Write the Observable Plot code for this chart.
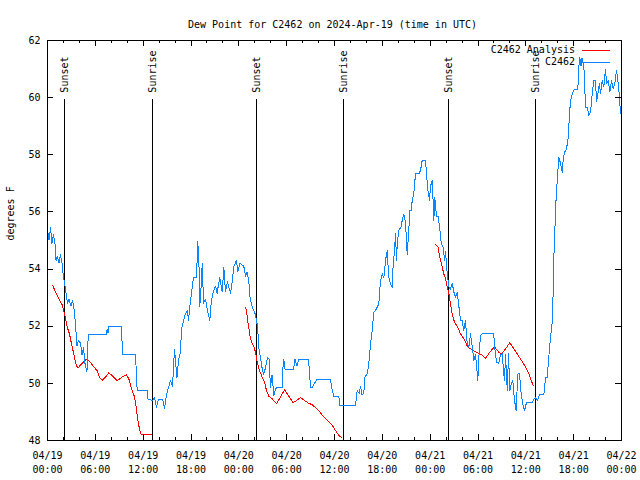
<!DOCTYPE html>
<html><head><meta charset="utf-8">
<script src="https://cdn.jsdelivr.net/npm/d3@7"></script>
<script src="https://cdn.jsdelivr.net/npm/@observablehq/plot@0.6"></script>
<style>body{margin:0;background:#fff}#chart svg{display:block}</style>
</head><body><div id="chart"></div>
<script>
const titleText = "Dew Point for C2462 on 2024-Apr-19 (time in UTC)";
const yLabel = "degrees F";
const seriesNames = ["C2462 Analysis", "C2462"];
const yTicks = [48, 50, 52, 54, 56, 58, 60, 62];
const startTime = "2024-04-19T00:00:00Z";
const endTime = "2024-04-22T00:00:00Z";
const sunLabels = ["Sunset", "Sunrise", "Sunset", "Sunrise", "Sunset", "Sunrise"];
const sunTimes = ["2024-04-19T02:10:00Z", "2024-04-19T13:13:00Z", "2024-04-20T02:16:00Z", "2024-04-20T13:11:00Z", "2024-04-21T02:20:00Z", "2024-04-21T13:14:00Z"];

// [hours since 04/19 00:00 UTC, dew point °F]
const observed = [[0,55.4],[0.19,55.0],[0.38,55.45],[0.56,54.9],[0.75,55.2],[0.94,54.9],[1.07,54.3],[1.25,54.45],[1.44,54.2],[1.63,54.5],[1.82,54.2],[2.01,53.7],[2.26,53.3],[2.51,52.8],[2.70,52.95],[2.95,52.7],[3.14,52.9],[3.32,52.6],[3.51,52.1],[3.70,51.3],[3.89,51.5],[4.14,51.4],[4.33,51.0],[4.52,51.25],[4.70,50.7],[4.95,50.4],[5.11,51.7],[7.40,51.7],[7.49,51.9],[7.59,51.75],[7.71,52.0],[9.28,52.0],[9.41,51.0],[11.04,51.0],[11.25,49.75],[12.51,49.75],[12.61,49.45],[13.17,49.4],[13.42,49.5],[13.67,49.17],[13.92,49.45],[14.43,49.45],[14.68,49.13],[14.93,49.6],[15.12,49.8],[15.43,50.1],[15.68,49.9],[15.93,51.2],[16.24,50.2],[16.43,50.8],[16.68,51.1],[16.81,51.9],[17.02,52.15],[17.25,52.4],[17.56,52.55],[17.69,52.2],[17.88,52.75],[18.13,53.3],[18.31,53.7],[18.69,53.7],[18.85,54.95],[18.98,54.4],[19.10,52.7],[19.23,53.2],[19.41,54.2],[19.57,52.8],[19.82,52.95],[20.03,52.6],[20.36,52.2],[20.53,52.8],[20.74,53.15],[21.07,53.4],[21.29,53.15],[21.41,53.4],[21.61,53.7],[21.91,53.2],[22.12,54.05],[22.33,53.2],[22.58,53.55],[22.96,53.15],[23.17,53.55],[23.37,54.1],[23.71,54.3],[23.87,53.9],[24.12,54.2],[24.62,54.1],[24.84,53.75],[25.03,53.9],[25.25,53.6],[25.38,53.05],[25.55,52.8],[25.80,52.6],[26.09,52.4],[26.34,52.0],[26.53,51.2],[26.72,50.9],[26.91,50.55],[27.10,50.3],[27.35,50.55],[27.60,50.9],[27.79,50.85],[27.97,49.87],[28.16,50.3],[28.39,49.57],[28.60,49.8],[28.85,49.87],[29.48,49.87],[29.54,50.57],[29.64,50.84],[29.79,50.5],[30.86,50.5],[31.05,50.84],[31.30,50.6],[31.49,50.84],[32.74,50.84],[32.99,49.87],[33.24,49.87],[33.49,50.0],[33.74,50.12],[35.50,50.12],[35.63,49.87],[35.91,49.54],[36.54,49.54],[36.67,49.22],[38.64,49.22],[38.85,49.75],[39.08,49.65],[39.26,49.9],[39.45,49.6],[39.68,49.65],[39.80,50.22],[40.10,50.33],[40.30,50.68],[40.52,51.38],[40.73,51.85],[40.93,52.5],[41.14,52.55],[41.36,52.67],[41.56,52.78],[41.77,53.6],[41.99,53.83],[42.19,53.7],[42.40,54.3],[42.61,54.65],[42.81,53.7],[43.03,53.48],[43.24,53.35],[43.36,54.18],[43.53,54.65],[43.65,55.25],[43.78,54.3],[43.87,54.9],[44.07,55.35],[44.34,55.47],[44.49,55.7],[44.70,55.93],[44.91,55.6],[45.12,54.5],[45.32,55.4],[45.47,56.05],[45.62,56.05],[45.75,56.4],[45.95,56.64],[46.16,57.33],[46.58,57.33],[46.79,57.45],[47.00,57.8],[47.42,57.8],[47.54,57.33],[47.71,56.75],[47.92,56.4],[48.04,56.9],[48.26,57.1],[48.38,56.3],[48.46,55.7],[48.58,56.5],[48.80,55.85],[49.01,55.85],[49.21,55.4],[49.39,54.9],[49.64,54.77],[49.80,54.3],[49.93,54.6],[50.14,53.84],[50.34,53.37],[50.55,53.3],[50.77,53.5],[50.97,53.2],[51.18,53.02],[51.40,53.2],[51.60,52.7],[51.81,52.2],[52.02,52.2],[52.22,51.85],[52.43,52.2],[52.64,51.4],[52.85,51.27],[53.06,51.73],[53.27,51.3],[53.48,50.8],[53.69,51.0],[53.98,50.1],[54.10,50.9],[54.32,51.67],[54.53,51.73],[55.98,51.73],[56.07,51.3],[56.32,50.75],[56.61,50.7],[56.82,51.0],[57.04,51.03],[57.24,50.3],[57.33,50.1],[57.45,51.0],[57.67,49.75],[57.83,51.03],[57.99,49.75],[58.17,49.98],[58.37,50.1],[58.58,49.4],[58.79,49.05],[58.99,50.33],[59.21,50.33],[59.42,49.63],[59.62,49.28],[59.84,49.05],[60.09,49.34],[60.80,49.34],[61.00,49.45],[61.22,49.5],[61.43,49.4],[61.75,49.61],[62.26,49.61],[62.47,50.2],[62.68,50.2],[62.88,50.92],[63.10,51.62],[63.31,52.14],[63.44,53.3],[63.51,54.36],[63.64,55.35],[63.76,56.28],[63.94,57.1],[64.14,57.92],[64.35,57.7],[64.56,57.39],[64.69,57.86],[64.89,58.1],[65.10,58.2],[65.32,58.62],[65.48,59.43],[65.61,59.9],[65.82,60.13],[66.11,60.3],[66.52,60.3],[66.65,61.07],[66.77,61.4],[66.92,61.1],[67.05,61.4],[67.28,61.1],[67.49,59.67],[67.70,59.67],[67.90,59.37],[68.11,59.5],[68.33,60.13],[68.53,60.6],[68.74,60.6],[68.87,59.86],[69.03,60.13],[69.24,60.5],[69.37,60.13],[69.58,60.6],[69.78,60.37],[70.00,61.0],[70.12,60.5],[70.34,60.6],[70.54,60.2],[70.75,60.6],[70.96,60.3],[71.16,60.5],[71.38,60.95],[71.54,60.6],[71.72,60.1],[71.88,59.44]];

const analysis1 = [[0.66,53.43],[1.00,53.19],[1.42,52.96],[1.84,52.75],[2.04,52.55],[2.26,52.26],[2.47,51.97],[2.76,51.73],[3.01,51.38],[3.30,51.03],[3.51,50.74],[3.73,50.57],[3.93,50.57],[4.27,50.68],[4.68,50.8],[4.98,50.85],[5.39,50.74],[5.81,50.57],[6.23,50.45],[6.52,50.22],[6.86,50.1],[7.28,50.22],[7.69,50.37],[8.12,50.27],[8.74,50.1],[9.37,50.22],[9.87,50.3],[10.20,50.16],[10.54,49.81],[10.83,49.6],[11.04,49.34],[11.25,48.88],[11.45,48.53],[11.67,48.23],[12.29,48.2],[13.05,48.2]];
const analysis2 = [[24.84,52.67],[24.96,52.55],[25.13,52.14],[25.30,51.85],[25.46,51.56],[25.68,51.38],[25.88,51.3],[26.09,51.09],[26.30,50.74],[26.59,50.45],[26.93,50.22],[27.22,50.04],[27.47,49.75],[27.76,49.55],[28.19,49.46],[28.73,49.28],[29.73,49.77],[30.82,49.32],[31.74,49.5],[32.65,49.32],[33.20,49.25],[34.03,49.05],[34.66,48.82],[35.71,48.53],[36.13,48.35],[36.54,48.18],[36.92,48.1]];
const analysis3 = [[48.67,54.86],[48.96,54.79],[49.21,54.42],[49.51,54.07],[49.71,53.83],[49.93,53.66],[50.14,53.37],[50.34,53.15],[50.55,52.78],[50.77,52.43],[51.05,52.14],[51.40,52.0],[51.81,51.73],[52.22,51.56],[52.72,51.27],[53.27,51.17],[53.98,51.06],[54.44,51.0],[54.94,50.88],[55.48,51.09],[56.07,51.28],[56.61,51.09],[56.95,51.03],[57.45,51.21],[57.99,51.42],[58.92,51.03],[59.34,50.85],[59.96,50.58],[60.38,50.33],[60.93,49.91]];

const RED = "#ff0000", BLUE = "#0a84ff";
const FONT = "'DejaVu Sans Mono', monospace";
const t0 = new Date(startTime), t1 = new Date(endTime);
const toDate = h => new Date(+t0 + h * 3600e3);
const obs = observed.map(([h, v]) => ({t: toDate(h), v}));
const ana = [analysis1, analysis2, analysis3].flatMap((s, i) => s.map(([h, v]) => ({t: toDate(h), v, seg: i})));
const sun = sunTimes.map((t, i) => ({t: new Date(t), label: sunLabels[i]}));
const minorTicks = d3.utcHour.every(2).range(t0, new Date(+t1 + 1));
const majorTicks = d3.utcHour.every(6).range(t0, new Date(+t1 + 1));
const fmt = d => d3.utcFormat("%m/%d")(d) + "\n" + d3.utcFormat("%H:%M")(d);
const lineTop = 59.93;

// plot frame geometry (pixels) used only to size the inward tick marks
const W = 640, H = 480, mL = 47, mR = 19, mT = 40, mB = 40;
const frameH = H - mT - mB;
const crisp = {shapeRendering: "crispEdges"};

const chart = Plot.plot({
  width: W, height: H,
  marginLeft: mL, marginRight: mR, marginTop: mT, marginBottom: mB,
  style: {fontFamily: FONT, fontSize: "10px", background: "#fff", color: "#000", overflow: "visible"},
  x: {type: "utc", domain: [t0, t1]},
  y: {domain: [48, 62]},
  marks: [
    Plot.ruleX(sun, {x: "t", y1: 48, y2: lineTop, stroke: "#000", strokeWidth: 1, ...crisp}),
    Plot.text(sun, {x: "t", y: lineTop, text: "label", rotate: -90, textAnchor: "start", dy: -7, fill: "#000"}),
    Plot.line(ana, {x: "t", y: "v", z: "seg", stroke: RED, strokeWidth: 1, ...crisp}),
    Plot.line(obs, {x: "t", y: "v", stroke: BLUE, strokeWidth: 1, ...crisp}),
    // inward ticks: bottom & top (minor every 2 h, major every 6 h)
    Plot.tickX(minorTicks, {x: d => d, insetTop: frameH - 3, stroke: "#000", ...crisp}),
    Plot.tickX(minorTicks, {x: d => d, insetBottom: frameH - 3, stroke: "#000", ...crisp}),
    Plot.tickX(majorTicks, {x: d => d, insetTop: frameH - 6, stroke: "#000", ...crisp}),
    Plot.tickX(majorTicks, {x: d => d, insetBottom: frameH - 6, stroke: "#000", ...crisp}),
    Plot.axisX({anchor: "bottom", ticks: majorTicks, tickSize: 0, tickPadding: 9, tickFormat: fmt, lineHeight: 1.4, label: null}),
    // inward ticks: left & right
    Plot.tickY(yTicks, {y: d => d, insetRight: (W - mL - mR) - 6, stroke: "#000", ...crisp}),
    Plot.tickY(yTicks, {y: d => d, insetLeft: (W - mL - mR) - 6, stroke: "#000", ...crisp}),
    Plot.axisY({anchor: "left", ticks: yTicks, tickSize: 0, tickPadding: 7, tickFormat: d => String(d), label: null}),
    Plot.frame({stroke: "#000", ...crisp}),
    Plot.text([titleText], {frameAnchor: "top", dy: -20, dx: -2, fill: "#000"}),
    Plot.text([yLabel], {frameAnchor: "left", rotate: -90, dx: -37, fill: "#000"})
  ]
});

// legend (top-right, inside the frame)
const legend = d3.select(chart).append("g").attr("font-family", FONT).attr("font-size", 10);
[[seriesNames[0], RED, 50], [seriesNames[1], BLUE, 62]].forEach(([name, color, yy]) => {
  legend.append("text").attr("x", 575).attr("y", yy).attr("dy", "0.32em").attr("text-anchor", "end").attr("fill", "#000").text(name);
  legend.append("line").attr("x1", 582).attr("x2", 610).attr("y1", yy + 0.5).attr("y2", yy + 0.5)
    .attr("stroke", color).attr("stroke-width", 1).attr("shape-rendering", "crispEdges");
});
document.getElementById("chart").append(chart);
</script>
</body></html>
